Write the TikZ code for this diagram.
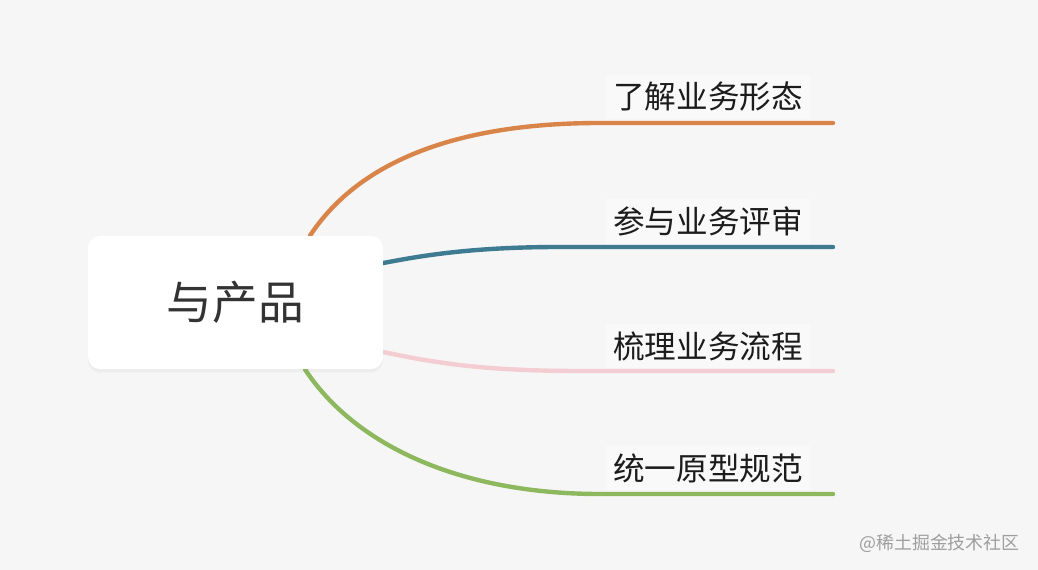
\documentclass[tikz,border=0pt]{standalone}
\usepackage{fontspec}
\setmainfont{Noto Sans CJK SC}
\usetikzlibrary{calc,shadows}
\definecolor{bgc}{HTML}{F6F6F7}
\definecolor{lblbg}{HTML}{F9F9FA}
\definecolor{orangeline}{HTML}{D9854A}
\definecolor{tealline}{HTML}{3E7B91}
\definecolor{pinkline}{HTML}{F3CDD2}
\definecolor{greenline}{HTML}{8DB85E}
\definecolor{txt}{HTML}{1C1C1C}
\pgfdeclarelayer{bg}
\pgfdeclarelayer{lines}
\pgfsetlayers{bg,lines,main}

\begin{document}
\begin{tikzpicture}[x=0.02cm,y=-0.02cm,
  root/.style={fill=white,rounded corners=0.24cm,minimum width=5.9cm,minimum height=2.66cm,
    font=\fontsize{26}{30}\selectfont,text=txt!90,
    drop shadow={shadow xshift=0pt,shadow yshift=-2pt,opacity=.07}},
  lbl/.style={fill=lblbg,inner sep=4pt,font=\fontsize{18}{22}\selectfont,text=txt},
  branch/.style={line width=2.5pt,line cap=round}]
\begin{pgfonlayer}{bg}
\fill[bgc] (0,0) rectangle (1038,570);
\end{pgfonlayer}
\useasboundingbox (0,0) rectangle (1038,570);

\node[root] (root) at (235.5,302.5) {与产品};

% labels
\node[lbl] (l1) at (708,97) {了解业务形态};
\node[lbl] (l2) at (708,221) {参与业务评审};
\node[lbl] (l3) at (708,346) {梳理业务流程};
\node[lbl] (l4) at (708,468) {统一原型规范};

\coordinate (e1) at (833,123);
\coordinate (e2) at (833,247);
\coordinate (e3) at (833,371);
\coordinate (e4) at (833,494);

% branches
\begin{pgfonlayer}{lines}
\draw[branch,orangeline] ($(root.north)+(74.5,0)$) .. controls +(50,-76) and +(-140,0) .. (e1 -| 600,0) -- (e1);
\draw[branch,tealline] ($(root.east)+(0,-39.5)$) .. controls +(37,-7) and +(-90,0) .. (e2 -| 560,0) -- (e2);
\draw[branch,pinkline] ($(root.east)+(0,49.5)$) .. controls +(47,10) and +(-100,0) .. (e3 -| 580,0) -- (e3);
\draw[branch,greenline] ($(root.south)+(69.5,0)$) .. controls +(50,76) and +(-140,0) .. (e4 -| 600,0) -- (e4);
\end{pgfonlayer}

\node[text=black!38,font=\fontsize{10.2}{12}\selectfont,anchor=east,inner sep=0pt] (mark) at (1020,543) {@稀土掘金技术社区};
\end{tikzpicture}
\end{document}
